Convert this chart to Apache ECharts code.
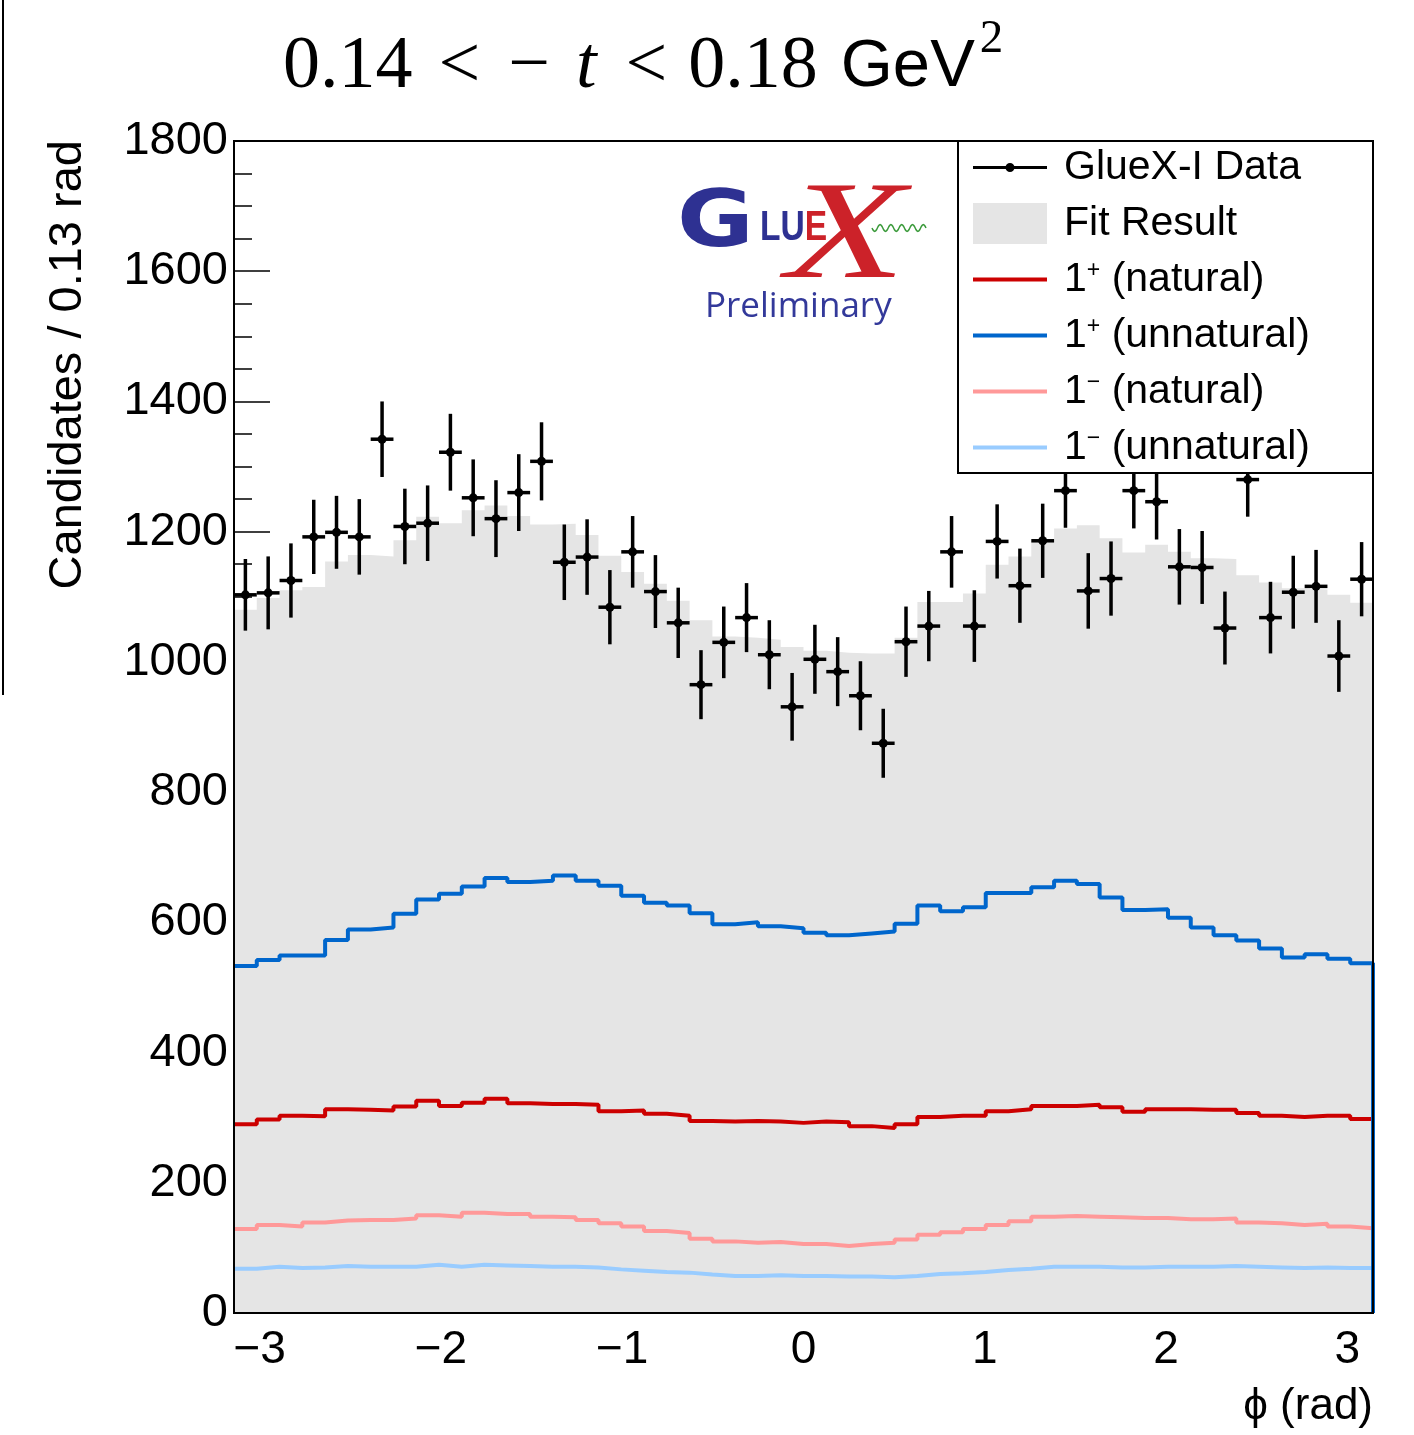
<!DOCTYPE html>
<html>
<head>
<meta charset="utf-8">
<script src="https://cdn.jsdelivr.net/npm/echarts@6/dist/echarts.min.js"></script>
<style>
  html, body { margin: 0; padding: 0; background: #fff; }
  #chart { width: 1414px; height: 1435px; }
</style>
</head>
<body>
<div id="chart"></div>
<script>
// phi range of the histogram (radians)
const phiMin = -Math.PI;
const phiMax = Math.PI;

// GlueX-I data: candidates per bin and their uncertainties
const dataCounts = [1103, 1106, 1125, 1192, 1199, 1192, 1342, 1208, 1213, 1322,
                    1252, 1220, 1260, 1308, 1153, 1161, 1084, 1169, 1108, 1060,
                    965, 1030, 1068, 1011, 931, 1004, 985, 948, 875, 1031,
                    1055, 1169, 1055, 1185, 1117, 1186, 1263, 1109, 1128, 1263,
                    1246, 1146, 1145, 1052, 1280, 1068, 1107, 1116, 1009, 1127];
const dataErrors = [55, 56, 57, 57, 56, 58, 58, 58, 58, 59,
                    59, 59, 59, 60, 58, 58, 57, 55, 56, 54,
                    53, 55, 53, 53, 52, 53, 53, 53, 53, 54,
                    54, 55, 55, 57, 57, 57, 57, 58, 57, 58,
                    58, 58, 56, 56, 57, 55, 56, 56, 55, 57];

// total fit result
const fitTotal = [1080, 1098, 1110, 1115, 1154, 1164, 1162, 1187, 1223, 1213,
                  1233, 1240, 1224, 1211, 1212, 1195, 1163, 1138, 1120, 1094,
                  1064, 1039, 1037, 1034, 1023, 1017, 1014, 1013, 1013, 1037,
                  1092, 1092, 1105, 1149, 1162, 1185, 1205, 1210, 1190, 1168,
                  1180, 1169, 1159, 1158, 1133, 1122, 1113, 1111, 1103, 1091];

// individual wave contributions
const plusNatural = [290, 297, 303, 302, 313, 312, 311, 317, 326, 318,
                     323, 329, 322, 321, 321, 320, 310, 311, 306, 303,
                     295, 294, 295, 294, 292, 294, 293, 287, 284, 290,
                     301, 303, 303, 310, 313, 318, 318, 320, 316, 309,
                     313, 313, 312, 312, 307, 303, 301, 303, 303, 298];
const plusUnnatural = [533, 542, 549, 549, 573, 589, 592, 613, 635, 644,
                       655, 668, 662, 664, 672, 664, 656, 641, 630, 626,
                       614, 597, 600, 594, 591, 584, 580, 583, 586, 598,
                       626, 617, 623, 645, 645, 654, 664, 659, 638, 619,
                       620, 607, 592, 580, 572, 560, 546, 551, 544, 537];
const minusNatural = [129, 135, 133, 139, 142, 143, 143, 145, 150, 148,
                      154, 152, 152, 148, 147, 143, 138, 133, 126, 123,
                      114, 110, 108, 109, 106, 106, 103, 106, 108, 113,
                      120, 124, 129, 135, 141, 148, 149, 148, 147, 146,
                      146, 144, 144, 145, 139, 138, 135, 137, 133, 130];
const minusUnnatural = [68, 71, 69, 70, 72, 71, 71, 71, 74, 71,
                        74, 73, 72, 71, 71, 70, 67, 65, 63, 62,
                        59, 57, 57, 58, 57, 57, 56, 56, 55, 57,
                        60, 61, 63, 66, 68, 71, 71, 71, 70, 70,
                        71, 71, 71, 72, 71, 70, 69, 70, 69, 69];

const yMin = 0, yMax = 1800, yStep = 200;

const nBins = dataCounts.length;
const binWidth = (phiMax - phiMin) / nBins;

// histogram outline: one point per lower bin edge plus the upper edge
function stepPoints(values, dropToZero) {
  const pts = values.map((v, i) => [phiMin + i * binWidth, v]);
  pts.push([phiMax, values[values.length - 1]]);
  if (dropToZero) pts.push([phiMax, 0]);
  return pts;
}

const SANS = 'Liberation Sans, Arial, Helvetica, sans-serif';
const SERIF = 'Liberation Serif, Times New Roman, serif';

// legend icons drawn in a 74 x 41 box (tiny corner squares keep the box size)
const BOX = 'M0,0h0.01v0.01h-0.01zM73.99,40.99h0.01v0.01h-0.01z';
const lineIcon = 'path://' + BOX + 'M0,18.5h74v4h-74z';
const dataIcon = 'path://' + BOX + 'M0,19h74v3h-74zM32.5,20.5a4.5,4.5 0 1,1 9,0a4.5,4.5 0 1,1 -9,0z';

function histSeries(name, values, color, dropToZero) {
  return {
    name: name,
    type: 'line',
    step: 'end',
    symbol: 'none',
    data: stepPoints(values, dropToZero),
    lineStyle: { color: color, width: 4 },
    itemStyle: { color: color },
    clip: !dropToZero,
    silent: true,
    z: 2
  };
}

function titleStyle(family, size, padLeft, italic) {
  return {
    fontFamily: family, fontSize: size, fontWeight: 'normal',
    fontStyle: italic ? 'italic' : 'normal',
    color: '#000', lineHeight: 104, verticalAlign: 'middle',
    padding: [0, 0, 0, padLeft]
  };
}

const chart = echarts.init(document.getElementById('chart'), null, { renderer: 'canvas' });

const option = {
  animation: false,
  backgroundColor: '#fff',
  title: {
    left: 283,
    top: 16,
    padding: 0,
    text: '{a|0.14}{b|<}{c|\u2212}{t|t}{d|<}{e|0.18}{g|GeV}{s|2}',
    textStyle: {
      fontWeight: 'normal',
      rich: {
        a: titleStyle(SERIF, 74, 0, false),
        b: titleStyle(SERIF, 74, 26, false),
        c: titleStyle(SERIF, 74, 28, false),
        t: titleStyle(SERIF, 74, 26, true),
        d: titleStyle(SERIF, 74, 29, false),
        e: titleStyle(SERIF, 74, 21, false),
        g: titleStyle(SANS, 67, 23, false),
        s: { fontFamily: SERIF, fontSize: 47, fontWeight: 'normal', color: '#000', lineHeight: 46, verticalAlign: 'top', padding: [0, 0, 0, 5] }
      }
    }
  },
  grid: {
    left: 234, top: 141, width: 1139, height: 1172,
    show: true, z: 5,
    backgroundColor: 'transparent',
    borderColor: '#000', borderWidth: 2,
    outerBoundsMode: 'none'
  },
  xAxis: {
    type: 'value',
    min: phiMin, max: phiMax,
    splitNumber: 5,
    axisLine: { show: false, onZero: false },
    axisTick: { show: false },
    splitLine: { show: false },
    axisLabel: {
      margin: 14,
      fontFamily: SANS, fontSize: 46, color: '#000',
      showMinLabel: false, showMaxLabel: false,
      formatter: function (v) {
        const r = Math.round(v);
        if (Math.abs(v - r) > 1e-6) return '';
        return r < 0 ? '\u2212' + (-r) : String(r);
      }
    },
    name: '\u03d5 (rad)',
    nameLocation: 'end',
    nameGap: 0,
    nameMoveOverlap: false,
    nameTextStyle: {
      fontFamily: SANS, fontSize: 44, color: '#000',
      align: 'right', verticalAlign: 'top', padding: [72, 0, 0, 0]
    }
  },
  yAxis: {
    type: 'value',
    min: yMin, max: yMax, interval: yStep,
    axisLine: { show: false, onZero: false },
    axisTick: { show: true, inside: true, length: 36, lineStyle: { color: '#000', width: 1.5 } },
    minorTick: { show: true, splitNumber: 4, length: 18, lineStyle: { color: '#000', width: 1.5 } },
    splitLine: { show: false },
    minorSplitLine: { show: false },
    axisLabel: {
      margin: 6, fontFamily: SANS, fontSize: 47, color: '#000',
      formatter: function (v) { return String(v); }
    }
  },
  legend: {
    orient: 'vertical',
    left: 973, top: 147,
    itemWidth: 74, itemHeight: 41, itemGap: 15,
    selectedMode: false,
    padding: 0,
    z: 4,
    data: [
      { name: 'GlueX-I Data', icon: dataIcon, itemStyle: { color: '#000', borderWidth: 0 } },
      { name: 'Fit Result', icon: 'rect', itemStyle: { color: '#e5e5e5', borderWidth: 0 } },
      { name: '1+ (natural)', icon: lineIcon, itemStyle: { color: '#cc0000', borderWidth: 0 } },
      { name: '1+ (unnatural)', icon: lineIcon, itemStyle: { color: '#0066cc', borderWidth: 0 } },
      { name: '1- (natural)', icon: lineIcon, itemStyle: { color: '#ff9999', borderWidth: 0 } },
      { name: '1- (unnatural)', icon: lineIcon, itemStyle: { color: '#99ccff', borderWidth: 0 } }
    ],
    formatter: function (name) {
      return name.replace(/^1([+-])/, function (m, s) {
        return '1{sup|' + (s === '+' ? '+' : '\u2212') + '}';
      });
    },
    textStyle: {
      fontFamily: SANS, fontSize: 41, color: '#000', lineHeight: 41,
      padding: [0, 0, 0, 12],
      rich: {
        sup: { fontFamily: SANS, fontSize: 23, color: '#000', lineHeight: 22, verticalAlign: 'top' }
      }
    }
  },
  graphic: [
    // frame of the neighbouring panel, cut at the left edge
    { type: 'line', z: 3, shape: { x1: 3, y1: 0, x2: 3, y2: 695 }, style: { stroke: '#000', lineWidth: 2 } },
    // legend box
    { type: 'rect', z: 3, shape: { x: 958, y: 141, width: 415, height: 332 },
      style: { fill: '#fff', stroke: '#000', lineWidth: 2 } },
    // y axis title
    { type: 'text', z: 3, x: 68, y: 140, rotation: Math.PI / 2,
      style: { text: 'Candidates / 0.13 rad', font: '47px ' + SANS, fill: '#000', align: 'right', verticalAlign: 'middle' } },
    // GlueX logo
    { type: 'text', z: 3, x: 677, y: 226, scaleX: 1.2,
      style: { text: 'G', font: 'bold 78px DejaVu Sans', fill: '#2e3192', verticalAlign: 'middle' } },
    { type: 'text', z: 3, x: 760, y: 228, scaleX: 0.8,
      style: { text: '{b|LU}{r|E}', verticalAlign: 'middle',
        rich: {
          b: { font: 'bold 42px ' + SANS, fill: '#2e3192' },
          r: { font: 'bold 42px ' + SANS, fill: '#cc2229' }
        } } },
    { type: 'text', z: 3, x: 786, y: 240, scaleX: 1.4,
      style: { text: 'X', font: 'italic 140px ' + SERIF, fill: '#cc2229', verticalAlign: 'middle' } },
    { type: 'polyline', z: 3,
      shape: { points: (function () {
        const pts = [];
        for (let k = 0; k <= 60; k++) pts.push([872 + k * 0.9, 228 + 3.5 * Math.sin(k / 60 * Math.PI * 10)]);
        return pts;
      })() },
      style: { stroke: '#3a9a3a', lineWidth: 1.5, fill: null } },
    { type: 'text', z: 3, x: 705, y: 307,
      style: { text: 'Preliminary', font: '35px Open Sans', fill: '#33399a', verticalAlign: 'middle' } }
  ],
  series: [
    {
      name: 'Fit Result',
      type: 'line',
      step: 'end',
      symbol: 'none',
      data: stepPoints(fitTotal, false),
      lineStyle: { width: 0, color: '#e5e5e5' },
      itemStyle: { color: '#e5e5e5' },
      areaStyle: { color: '#e5e5e5', opacity: 1 },
      silent: true,
      z: 2
    },
    histSeries('1+ (natural)', plusNatural, '#cc0000', false),
    histSeries('1- (natural)', minusNatural, '#ff9999', false),
    histSeries('1- (unnatural)', minusUnnatural, '#99ccff', false),
    histSeries('1+ (unnatural)', plusUnnatural, '#0066cc', true),
    {
      name: 'GlueX-I Data',
      type: 'custom',
      data: dataCounts.map((v, i) => [phiMin + (i + 0.5) * binWidth, v, dataErrors[i]]),
      encode: { x: 0, y: 1 },
      z: 2,
      silent: true,
      renderItem: function (params, api) {
        const x = api.value(0), y = api.value(1), e = api.value(2);
        const c = api.coord([x, y]);
        const lo = api.coord([x, y - e]);
        const hi = api.coord([x, y + e]);
        const l = api.coord([x - binWidth / 2, y]);
        const r = api.coord([x + binWidth / 2, y]);
        const st = { stroke: '#000', lineWidth: 3.5 };
        return {
          type: 'group',
          children: [
            { type: 'line', shape: { x1: lo[0], y1: lo[1], x2: hi[0], y2: hi[1] }, style: st },
            { type: 'line', shape: { x1: l[0], y1: l[1], x2: r[0], y2: r[1] }, style: st },
            { type: 'circle', shape: { cx: c[0], cy: c[1], r: 4.5 }, style: { fill: '#000' } }
          ]
        };
      }
    }
  ]
};

chart.setOption(option);
</script>
</body>
</html>
